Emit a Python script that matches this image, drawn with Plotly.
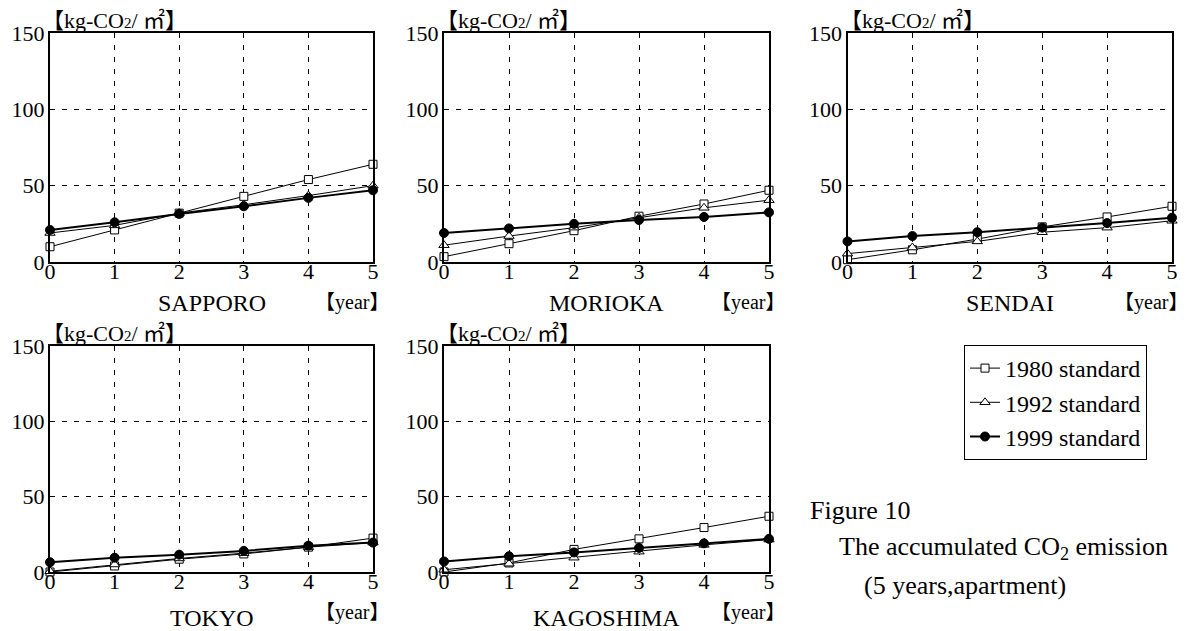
import plotly.graph_objects as go

# ---------------- data ----------------
years = [0, 1, 2, 3, 4, 5]
cities = ["SAPPORO", "MORIOKA", "SENDAI", "TOKYO", "KAGOSHIMA"]
series_names = ["1980 standard", "1992 standard", "1999 standard"]

sapporo_1980 = [10, 21, 32, 43, 54, 64]
sapporo_1992 = [19, 24, 32, 37.5, 43.5, 50]
sapporo_1999 = [21, 26, 31.5, 36.5, 42, 47]

morioka_1980 = [3.5, 12, 20.5, 30, 38, 47]
morioka_1992 = [11, 17, 22.5, 29, 35.5, 40.5]
morioka_1999 = [19, 22, 25, 27.5, 29.5, 32.5]

sendai_1980 = [1.5, 8, 15, 23, 29.5, 36.5]
sendai_1992 = [5.5, 9.5, 13.5, 19.5, 22.5, 27]
sendai_1999 = [13.5, 17, 19.5, 22.5, 25.5, 29]

tokyo_1980 = [0, 4, 8.5, 12, 16.5, 22.5]
tokyo_1992 = [0.5, 5, 9, 12.5, 16.5, 19.5]
tokyo_1999 = [6.5, 9.5, 11.5, 14, 17.5, 19.5]

kagoshima_1980 = [0, 6, 15, 22, 29.5, 37]
kagoshima_1992 = [1.5, 5.5, 9.5, 13.5, 18, 21.5]
kagoshima_1999 = [7, 10.5, 13, 16, 19, 22]

city_series = [
    (sapporo_1980, sapporo_1992, sapporo_1999),
    (morioka_1980, morioka_1992, morioka_1999),
    (sendai_1980, sendai_1992, sendai_1999),
    (tokyo_1980, tokyo_1992, tokyo_1999),
    (kagoshima_1980, kagoshima_1992, kagoshima_1999),
]

y_ticks = [0, 50, 100, 150]
unit_label = "【kg-CO<span style='font-size:15px'>2</span>/ ㎡】"
year_label = "【year】"
caption_lines = ["Figure 10",
                 "The accumulated CO<sub>2</sub> emission",
                 "(5 years,apartment)"]

# ---------------- layout geometry (pixels of the 1189x631 page) ----------------
PAGE_W, PAGE_H = 1189, 631
OFF = 8  # default body margin of the html page
W, H = PAGE_W - OFF, PAGE_H - OFF
panels_px = [
    (50, 373, 33, 262),
    (444, 769, 33, 262),
    (847.5, 1172, 33, 262),
    (50, 373, 346, 572),
    (444, 769, 346, 572),
]
name_y_px = [303, 303, 303, 618, 618]
year_y_px = [303, 303, 303, 612, 612]
unit_y_px = [20.5, 20.5, 20.5, 333.5, 333.5]

SERIF = "Liberation Serif"
SERIF_CJK = "Liberation Serif, Noto Sans CJK JP"

def px_x(v):
    return (v - OFF) / W

def px_y(v):
    return 1 - (v - OFF) / H

fig = go.Figure()

styles = [
    dict(line=dict(color="black", width=1),
         marker=dict(symbol="square", size=8, color="white",
                     line=dict(color="black", width=1))),
    dict(line=dict(color="black", width=1),
         marker=dict(symbol="triangle-up", size=9, color="white",
                     line=dict(color="black", width=1))),
    dict(line=dict(color="black", width=2),
         marker=dict(symbol="circle", size=9, color="black",
                     line=dict(color="black", width=1))),
]

annotations = []
layout_axes = {}
for i, (city, series) in enumerate(zip(cities, city_series)):
    n = "" if i == 0 else str(i + 1)
    xa, ya = "x" + n, "y" + n
    l, r, t, b = panels_px[i]
    for s, (vals, st) in enumerate(zip(series, styles)):
        fig.add_trace(go.Scatter(
            x=years, y=vals, mode="lines+markers",
            name=series_names[s], legendgroup=series_names[s],
            showlegend=(i == 0), xaxis=xa, yaxis=ya,
            cliponaxis=False, hoverinfo="skip", **st))
    common = dict(showline=True, linecolor="black", linewidth=2, mirror=True,
                  showgrid=True, gridcolor="black", gridwidth=1,
                  griddash="5px,7px", zeroline=False, ticks="",
                  automargin=False,
                  tickfont=dict(family=SERIF, size=22, color="black"))
    layout_axes["xaxis" + n] = dict(
        domain=[px_x(l), px_x(r)], range=[0, 5], tickvals=years,
        anchor=ya, ticklabelstandoff=-11, **common)
    layout_axes["yaxis" + n] = dict(
        domain=[px_y(b), px_y(t)], range=[0, 150], tickvals=y_ticks,
        anchor=xa, ticklabelstandoff=-1, **common)

    annotations.append(dict(
        text=city, x=px_x((l + r) / 2), y=px_y(name_y_px[i]),
        xref="paper", yref="paper", xanchor="center", yanchor="middle",
        showarrow=False, font=dict(family=SERIF, size=24, color="black")))
    annotations.append(dict(
        text=year_label, x=px_x(r - 21), y=px_y(year_y_px[i]),
        xref="paper", yref="paper", xanchor="center", yanchor="middle",
        showarrow=False, font=dict(family=SERIF_CJK, size=20, color="black")))
    annotations.append(dict(
        text=unit_label, x=px_x(l - 10), y=px_y(unit_y_px[i]),
        xref="paper", yref="paper", xanchor="left", yanchor="middle",
        showarrow=False, font=dict(family=SERIF_CJK, size=22, color="black")))

caption_pos = [(808, 510), (837, 548), (862, 585)]
for txt, (cx, cy) in zip(caption_lines, caption_pos):
    annotations.append(dict(
        text=txt, x=px_x(cx), y=px_y(cy), xref="paper", yref="paper",
        xanchor="left", yanchor="middle", showarrow=False,
        font=dict(family=SERIF, size=26, color="black")))

fig.update_layout(
    width=W, height=H,
    margin=dict(l=0, r=0, t=0, b=0),
    paper_bgcolor="white", plot_bgcolor="white",
    showlegend=True,
    legend=dict(x=px_x(964), y=px_y(345), xanchor="left", yanchor="top",
                bordercolor="black", borderwidth=1, bgcolor="white",
                font=dict(family=SERIF, size=24, color="black"),
                itemwidth=30, tracegroupgap=0),
    annotations=annotations,
    **layout_axes,
)

fig.write_html("out.html")
